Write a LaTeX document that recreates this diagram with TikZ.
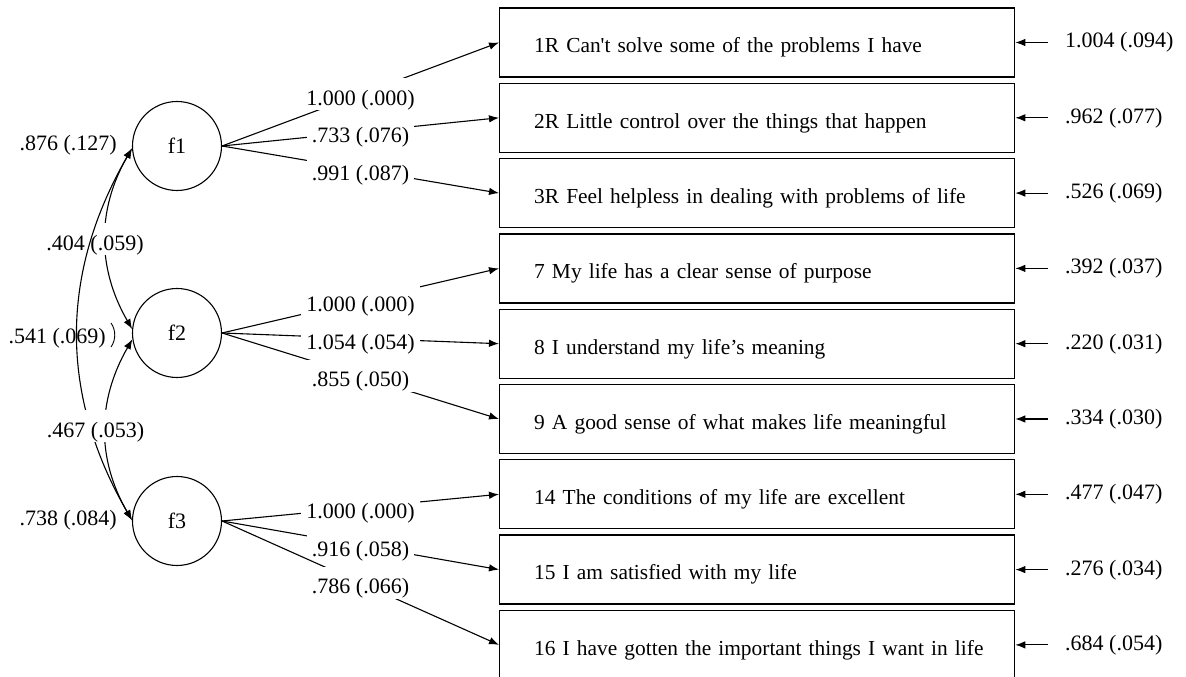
\documentclass[tikz,border=0pt]{standalone}
\usepackage{fontspec}
\newfontfamily\tnr{Liberation Serif}
\usetikzlibrary{arrows.meta}
\begin{document}
\begin{tikzpicture}[x=1pt,y=1pt,
  every node/.style={font=\tnr\fontsize{22}{26}\selectfont},
  lv/.style={circle, draw, line width=1.1pt, minimum size=89pt, inner sep=0pt},
  ind/.style={draw, line width=1.3pt, minimum height=69pt, text width=480pt, inner xsep=17.5pt,
    align=left, anchor=west, text height=25pt, text depth=4.2pt,
    font=\tnr\fontsize{21.4}{26}\selectfont,
    execute at begin node={\hspace*{17pt}}},
  arr/.style={line width=1.1pt, -{Latex[length=10pt,width=7.5pt]}},
  dbl/.style={line width=1.1pt, {Latex[length=10pt,width=7.5pt]}-{Latex[length=10pt,width=7.5pt]}},
  lab/.style={fill=white, text height=25pt, text depth=3pt, inner xsep=5pt, inner ysep=2pt},
  err/.style={anchor=west, inner xsep=17pt, text height=16pt, text depth=5pt},
  var/.style={anchor=base east, inner sep=0pt}
]
\fill[white] (0,0) rectangle (1186,677);
\useasboundingbox (0,0) rectangle (1186,677);

% latent variables
\node[lv] (f1) at (177,531) {f1};
\node[lv] (f2) at (177,344) {f2};
\node[lv] (f3) at (177,156) {f3};

% indicators
\node[ind] (b1) at (499,634.5) {1R Can't solve some of the problems I have};
\node[ind] (b2) at (499,559.2) {2R Little control over the things that happen};
\node[ind] (b3) at (499,483.9) {3R Feel helpless in dealing with problems of life};
\node[ind] (b4) at (499,408.6) {7 My life has a clear sense of purpose};
\node[ind] (b5) at (499,333.3) {8 I understand my life’s meaning};
\node[ind] (b6) at (499,258.0) {9 A good sense of what makes life meaningful};
\node[ind] (b7) at (499,182.7) {14 The conditions of my life are excellent};
\node[ind] (b8) at (499,107.4) {15 I am satisfied with my life};
\node[ind] (b9) at (499,32.1) {16 I have gotten the important things I want in life};

% loadings
\draw[arr] (f1.east) -- node[lab]{1.000 (.000)} (b1.west);
\draw[arr] (f1.east) -- node[lab]{.733 (.076)} (b2.west);
\draw[arr] (f1.east) -- node[lab]{.991 (.087)} (b3.west);
\draw[arr] (f2.east) -- node[lab]{1.000 (.000)} (b4.west);
\draw[arr] (f2.east) -- node[lab]{1.054 (.054)} (b5.west);
\draw[arr] (f2.east) -- node[lab]{.855 (.050)} (b6.west);
\draw[arr] (f3.east) -- node[lab]{1.000 (.000)} (b7.west);
\draw[arr] (f3.east) -- node[lab]{.916 (.058)} (b8.west);
\draw[arr] (f3.east) -- node[lab]{.786 (.066)} (b9.west);

% error variances
\node[err] (e1) at (1048,634.5) {1.004 (.094)};
\node[err] (e2) at (1048,559.2) {.962 (.077)};
\node[err] (e3) at (1048,483.9) {.526 (.069)};
\node[err] (e4) at (1048,408.6) {.392 (.037)};
\node[err] (e5) at (1048,333.3) {.220 (.031)};
\node[err] (e6) at (1048,258.0) {.334 (.030)};
\node[err] (e7) at (1048,182.7) {.477 (.047)};
\node[err] (e8) at (1048,107.4) {.276 (.034)};
\node[err] (e9) at (1048,32.1) {.684 (.054)};
\foreach \i in {1,...,9} {\draw[arr] (e\i.west) -- (b\i.east);}

% factor variances
\node[var] (v1) at (117,526.6) {.876 (.127)};
\node[var] (v3) at (117,151.6) {.738 (.084)};

% covariances
\draw[dbl] (f1.183) to[out=240,in=120] (f2.175);
\node[lab] (c12) at (95,437.6) {.404 (.059)};
\draw[dbl] (f1.183) to[out=240,in=120] (f3.179);
\draw[dbl] (f2.188) to[out=240,in=120] (f3.179);
\node[lab, text depth=13pt] (c13) at (58,339.6) {};
\node[var] (v2) at (106,333.6) {.541 (.069)};
\node[lab] (c23) at (95.5,250.6) {.467 (.053)};
\draw[line width=0.9pt] (111,354) .. controls (116,347) and (116,337) .. (111,330);
\end{tikzpicture}
\end{document}
